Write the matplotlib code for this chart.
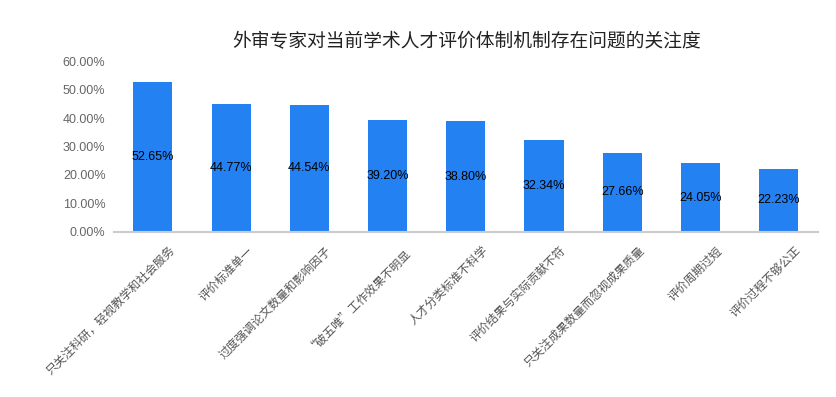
import matplotlib
matplotlib.use('Agg')
import matplotlib.pyplot as plt
import matplotlib.transforms as mtransforms
from matplotlib.ticker import FuncFormatter

categories = [
    '只关注科研，轻视教学和社会服务',
    '评价标准单一',
    '过度强调论文数量和影响因子',
    '“破五唯”工作效果不明显',
    '人才分类标准不科学',
    '评价结果与实际贡献不符',
    '只关注成果数量而忽视成果质量',
    '评价周期过短',
    '评价过程不够公正',
]
values = [52.65, 44.77, 44.54, 39.20, 38.80, 32.34, 27.66, 24.05, 22.23]
title = '外审专家对当前学术人才评价体制机制存在问题的关注度'

plt.rcParams['font.family'] = ['Liberation Sans', 'Noto Sans CJK SC', 'DejaVu Sans']

fig = plt.figure(figsize=(8.37, 3.97), dpi=100)
ax = fig.add_axes([0.136, 0.416, 0.841, 0.430])

x = range(len(categories))
bars = ax.bar(x, values, width=0.5, color='#2381f2')

for rect, v in zip(bars, values):
    ax.text(rect.get_x() + rect.get_width() / 2, v / 2, f'{v:.2f}%',
            ha='center', va='center', fontsize=9, color='black')

ax.set_xlim(-0.5, len(categories) - 0.5)
ax.set_ylim(0, 60)
ax.set_yticks(range(0, 61, 10))
ax.yaxis.set_major_formatter(FuncFormatter(lambda v, p: f'{v:.2f}%'))
ax.tick_params(axis='y', length=0, labelsize=9, labelcolor='#666666', pad=6)
ax.tick_params(axis='x', length=0, pad=4)

ax.set_xticks(list(x))
ax.set_xticklabels(categories, rotation=45, ha='right', va='center',
                   rotation_mode='anchor', fontsize=8.5, color='#555555',
                   family=['Noto Sans CJK SC', 'DejaVu Sans'])
offset = mtransforms.ScaledTranslation(20 / 100, -11 / 100, fig.dpi_scale_trans)
for lbl in ax.get_xticklabels():
    lbl.set_transform(lbl.get_transform() + offset)

for side in ['top', 'right', 'left']:
    ax.spines[side].set_visible(False)
ax.spines['bottom'].set_color('#cccccc')
ax.spines['bottom'].set_linewidth(1.5)

fig.text(0.557, 0.895, title, ha='center', va='center', fontsize=13.5,
         family=['Noto Sans CJK SC', 'DejaVu Sans'], color='#222222')

fig.savefig('out.png', dpi=100)
